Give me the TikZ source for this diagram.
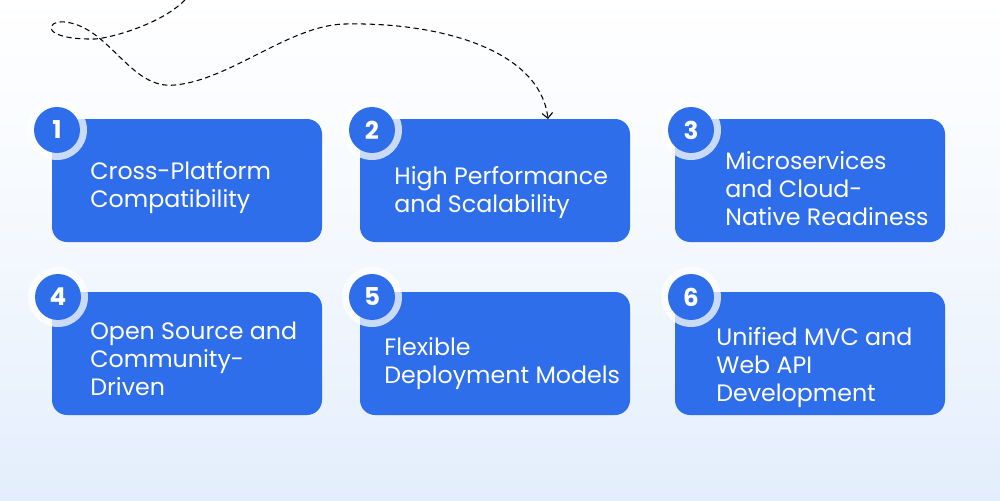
\documentclass[tikz,border=0pt]{standalone}
\usepackage{fontspec}
\setmainfont{Poppins}
\usetikzlibrary{arrows.meta}
\definecolor{boxblue}{HTML}{2F6EEA}
\definecolor{bgblue}{HTML}{E3EEFC}
\begin{document}
\begin{tikzpicture}[x=0.02cm,y=-0.02cm,
  card/.style={fill=boxblue,rounded corners=0.3cm},
  ring/.style={fill=white,fill opacity=0.75,circle,minimum size=1.2cm,inner sep=0pt},
  badge/.style={fill=boxblue,circle,minimum size=0.92cm,inner sep=0pt,text=white,font=\fontsize{14pt}{16pt}\selectfont\bfseries},
  lbl/.style={text=white,anchor=north west,align=left,inner sep=0pt,font=\fontsize{13.5pt}{15.9pt}\selectfont}]
\shade[top color=white,bottom color=bgblue,middle color=white!60!bgblue] (0,0) rectangle (1000,500);
\useasboundingbox (0,0) rectangle (1000,500);
\foreach \n/\x/\y in {1/52/119,2/360/119,3/675/119,4/52/292,5/360/292,6/675/292}{
  \fill[card] (\x,\y) rectangle ++(270,123);
}
\foreach \n/\x/\y in {1/57/130,2/372/130,3/691/130,4/58/297,5/372/297,6/691/297}{
  \node[ring] (r\n) at (\x,\y) {};
  \node[badge] (b\n) at (\x,\y) {\n};
}
\node[lbl] (t1) at (90,161) {Cross-Platform\\Compatibility};
\node[lbl] (t2) at (394,166) {High Performance\\and Scalability};
\node[lbl] (t3) at (725,151) {Microservices\\and Cloud-\\Native Readiness};
\node[lbl] (t4) at (90,322) {Open Source and\\Community-\\Driven};
\node[lbl] (t5) at (384,337) {Flexible\\Deployment Models};
\node[lbl] (t6) at (716,327) {Unified MVC and\\Web API\\Development};
\coordinate (s) at (185,0);
\coordinate (e) at (548,119);
\draw[densely dashed,line width=0.6pt,-{Straight Barb[length=3pt]}]
  (s) .. controls (160,25) and (110,38) .. (95,39)
  .. controls (40,40) and (45,20) .. (65,22)
  .. controls (110,27) and (130,90) .. (175,85)
  .. controls (230,80) and (290,25) .. (345,24)
  .. controls (440,22) and (540,50) .. (e);
\end{tikzpicture}
\end{document}
